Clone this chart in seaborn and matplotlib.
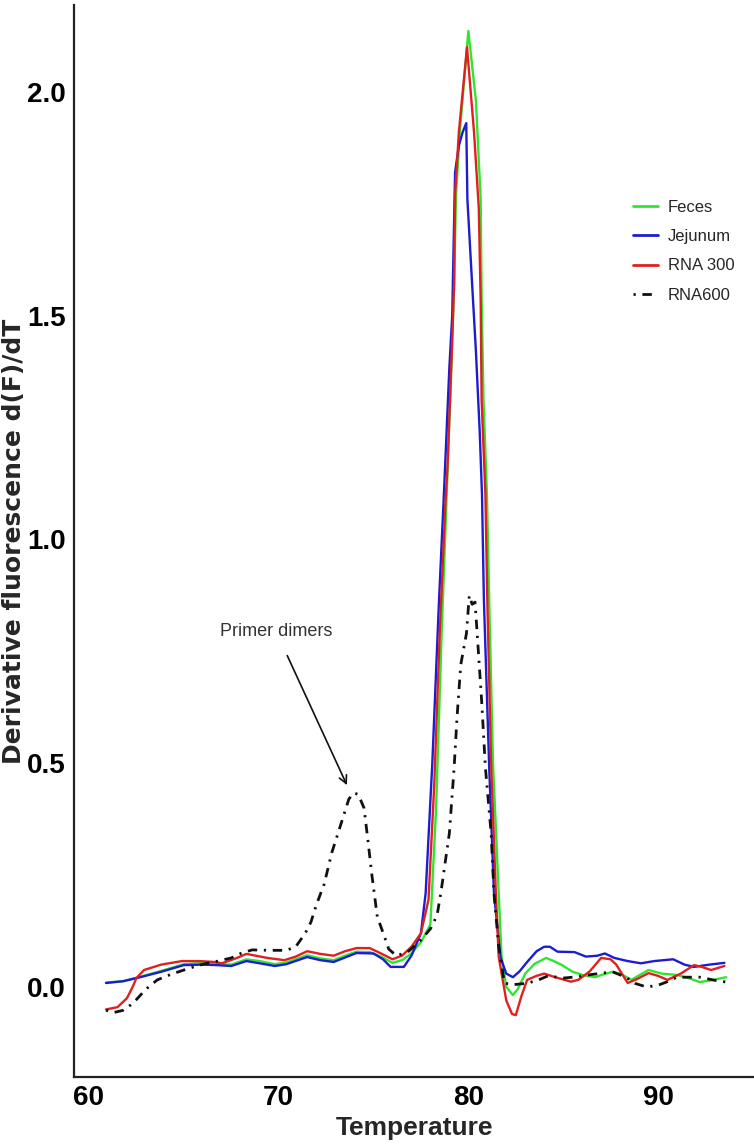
import numpy as np
import pandas as pd
import matplotlib
matplotlib.use("Agg")
import matplotlib.pyplot as plt
import seaborn as sns

# ---------------- data ----------------
feces_t = [60.9, 61.8, 62.7, 63.8, 65.0, 66.0, 66.7, 67.5, 68.3, 69.0, 69.8, 70.4, 71.5, 72.2,
           72.9, 73.5, 74.1, 74.8, 75.4, 76.0, 76.5, 77.0, 77.5, 78.0, 78.3, 78.6, 78.85, 79.1,
           79.25, 79.35, 79.55, 80.0, 80.4, 80.65, 80.7, 80.8, 80.98, 81.1, 81.3, 81.6, 81.75,
           82.0, 82.35, 82.6, 83.0, 83.5, 84.1, 84.5, 84.9, 85.5, 86.1, 86.7, 87.1, 87.6, 88.0,
           88.6, 89.0, 89.5, 90.2, 91.0, 91.6, 92.2, 92.8, 93.6]
feces_v = [0.010, 0.013, 0.023, 0.036, 0.051, 0.054, 0.052, 0.050, 0.062, 0.058, 0.051, 0.055,
           0.071, 0.064, 0.060, 0.070, 0.079, 0.078, 0.068, 0.054, 0.060, 0.075, 0.100, 0.140,
           0.400, 0.800, 1.090, 1.385, 1.570, 1.770, 1.910, 2.136, 1.980, 1.760, 1.540, 1.310,
           1.100, 0.865, 0.500, 0.210, 0.070, 0.000, -0.018, -0.005, 0.030, 0.052, 0.065, 0.058,
           0.050, 0.034, 0.026, 0.022, 0.028, 0.034, 0.030, 0.016, 0.026, 0.038, 0.030, 0.027,
           0.020, 0.011, 0.015, 0.022]

jejunum_t = [60.9, 61.8, 62.7, 63.8, 65.0, 66.0, 66.7, 67.5, 68.3, 69.0, 69.8, 70.4, 71.5, 72.2,
             72.9, 73.5, 74.1, 75.0, 75.5, 75.9, 76.6, 77.0, 77.5, 77.75, 78.1, 78.45, 78.7,
             79.0, 79.15, 79.3, 79.5, 79.7, 79.89, 79.95, 80.2, 80.4, 80.6, 80.72, 80.82, 81.1,
             81.35, 81.7, 82.0, 82.35, 82.7, 83.1, 83.6, 84.0, 84.3, 84.7, 85.6, 86.2, 86.8,
             87.2, 87.7, 88.4, 89.1, 89.8, 90.8, 91.4, 91.9, 92.7, 93.5]
jejunum_v = [0.009, 0.013, 0.022, 0.034, 0.049, 0.050, 0.049, 0.047, 0.058, 0.053, 0.047, 0.051,
             0.067, 0.060, 0.056, 0.066, 0.076, 0.075, 0.062, 0.045, 0.045, 0.070, 0.120, 0.210,
             0.500, 0.860, 1.090, 1.385, 1.500, 1.820, 1.880, 1.910, 1.930, 1.760, 1.570, 1.420,
             1.240, 1.100, 0.865, 0.490, 0.210, 0.065, 0.030, 0.022, 0.035, 0.056, 0.080, 0.090,
             0.090, 0.079, 0.078, 0.068, 0.070, 0.075, 0.065, 0.058, 0.053, 0.058, 0.062, 0.050,
             0.045, 0.050, 0.054]

rna300_t = [60.9, 61.5, 62.0, 62.3, 62.5, 62.9, 63.8, 64.9, 65.8, 66.6, 67.0, 67.8, 68.3, 68.8,
            69.4, 70.3, 70.9, 71.5, 72.2, 72.9, 73.5, 74.1, 74.8, 75.4, 76.0, 76.5, 77.0, 77.5,
            77.9, 78.2, 78.5, 78.8, 78.9, 79.1, 79.25, 79.3, 79.5, 79.93, 80.3, 80.55, 80.65,
            80.7, 80.9, 81.0, 81.2, 81.45, 81.6, 82.0, 82.3, 82.5, 82.8, 83.1, 83.6, 84.0, 84.5,
            85.4, 85.8, 86.4, 87.0, 87.5, 87.8, 88.4, 88.9, 89.5, 90.0, 90.5, 91.2, 91.9, 92.3,
            92.8, 93.5]
rna300_v = [-0.050, -0.045, -0.025, 0.000, 0.020, 0.038, 0.050, 0.058, 0.058, 0.056, 0.053, 0.065,
            0.074, 0.070, 0.065, 0.060, 0.068, 0.080, 0.074, 0.070, 0.080, 0.087, 0.087, 0.075,
            0.062, 0.070, 0.090, 0.120, 0.195, 0.450, 0.800, 1.090, 1.160, 1.385, 1.570, 1.770,
            1.910, 2.100, 1.910, 1.740, 1.535, 1.310, 1.100, 0.865, 0.500, 0.210, 0.068, -0.030,
            -0.060, -0.063, -0.020, 0.016, 0.025, 0.030, 0.023, 0.012, 0.016, 0.035, 0.065, 0.062,
            0.050, 0.009, 0.018, 0.031, 0.025, 0.016, 0.030, 0.049, 0.045, 0.038, 0.047]

rna600_t = [60.9, 61.3, 61.8, 62.2, 62.5, 63.0, 63.6, 64.3, 65.0, 65.6, 66.2, 66.8, 67.5, 68.0,
            68.6, 69.5, 70.4, 70.9, 71.4, 71.7, 72.0, 72.4, 72.8, 73.35, 73.7, 73.97, 74.2, 74.5,
            74.7, 74.9, 75.2, 75.6, 75.8, 76.2, 76.8, 77.5, 78.0, 78.35, 78.55, 79.0, 79.25, 79.4,
            79.6, 79.9, 80.05, 80.2, 80.35, 80.45, 80.7, 80.9, 81.2, 81.35, 81.6, 81.9, 82.3, 83.0,
            83.6, 84.2, 85.0, 85.5, 86.5, 87.6, 88.3, 88.8, 89.4, 90.0, 90.5, 91.0, 92.2, 93.0, 93.6]
rna600_v = [-0.052, -0.057, -0.052, -0.040, -0.028, -0.005, 0.016, 0.028, 0.038, 0.046, 0.053,
            0.058, 0.065, 0.075, 0.083, 0.082, 0.082, 0.090, 0.120, 0.145, 0.185, 0.230, 0.300,
            0.373, 0.420, 0.434, 0.430, 0.400, 0.330, 0.255, 0.157, 0.110, 0.085, 0.070, 0.078,
            0.105, 0.130, 0.160, 0.210, 0.344, 0.490, 0.600, 0.720, 0.790, 0.875, 0.855, 0.860,
            0.800, 0.640, 0.490, 0.344, 0.210, 0.090, 0.009, 0.005, 0.008, 0.014, 0.025, 0.020,
            0.022, 0.028, 0.034, 0.022, 0.008, 0.000, 0.004, 0.012, 0.022, 0.022, 0.015, 0.011]

series_names = ["Feces", "Jejunum", "RNA 300", "RNA600"]
x_ticks = [60, 70, 80, 90]
y_ticks = [0.0, 0.5, 1.0, 1.5, 2.0]
y_tick_labels = ["0.0", "0.5", "1.0", "1.5", "2.0"]

frames = []
for name, t, v in zip(series_names,
                      [feces_t, jejunum_t, rna300_t, rna600_t],
                      [feces_v, jejunum_v, rna300_v, rna600_v]):
    frames.append(pd.DataFrame({"Temperature": t, "value": v, "sample": name}))
df = pd.concat(frames, ignore_index=True)

# ---------------- style ----------------
sns.set_style("white")
plt.rcParams["font.family"] = ["Liberation Sans", "DejaVu Sans"]

colors = {"Feces": "#2fe62f", "Jejunum": "#1c1cd0", "RNA 300": "#e02020", "RNA600": "#111111"}
dash_600 = (5.8, (3.4, 2.4, 0.8, 2.4))

fig = plt.figure(figsize=(7.54, 11.44), dpi=100)
ax = fig.add_axes([74 / 754, 67 / 1144, 680 / 754, 1072 / 1144])

for name in series_names:
    sub = df[df["sample"] == name]
    if name == "RNA600":
        sns.lineplot(data=sub, x="Temperature", y="value", ax=ax, color=colors[name],
                     linewidth=2.0, label=name, estimator=None, sort=False, linestyle=dash_600)
    else:
        sns.lineplot(data=sub, x="Temperature", y="value", ax=ax, color=colors[name],
                     linewidth=1.7, label=name, estimator=None, sort=False)

ax.set_xlim(59.21, 95.06)
ax.set_ylim(-0.201, 2.194)

narrow = ["Liberation Sans Narrow", "Liberation Sans", "DejaVu Sans"]
ax.set_xticks(x_ticks)
ax.set_xticklabels([str(t) for t in x_ticks], fontsize=20, fontweight="bold", family=narrow)
ax.set_yticks(y_ticks)
ax.set_yticklabels(y_tick_labels, fontsize=20, fontweight="bold", family=narrow)
ax.tick_params(axis="both", direction="out", length=3.6, width=1.1, color="#333333",
               pad=2.5, labelcolor="black")

for s in ["top", "right"]:
    ax.spines[s].set_visible(False)
for s in ["left", "bottom"]:
    ax.spines[s].set_linewidth(1.6)
    ax.spines[s].set_color("#222222")

ax.set_xlabel("Temperature", fontsize=19, fontweight="bold", family=narrow)
ax.set_ylabel("Derivative fluorescence d(F)/dT", fontsize=18, fontweight="bold",
              family=["DejaVu Sans"])
ax.xaxis.set_label_coords(0.5, -0.036)
ax.yaxis.set_label_coords(-0.070, 0.5)

ax.annotate("Primer dimers", xy=(73.6, 0.451), xytext=(69.86, 0.795),
            fontsize=13, color="#333333", ha="center", va="center",
            arrowprops=dict(arrowstyle="->", color="#111111", lw=1.2,
                            shrinkA=10, shrinkB=0, mutation_scale=14))

leg = ax.legend(loc="upper left", bbox_to_anchor=(0.80, 0.832), frameon=False,
                fontsize=12, handlelength=1.5, handletextpad=0.6, labelspacing=0.85)
for line in leg.get_lines():
    line.set_linewidth(2.0)

fig.savefig("out.png", dpi=100, facecolor="white")
